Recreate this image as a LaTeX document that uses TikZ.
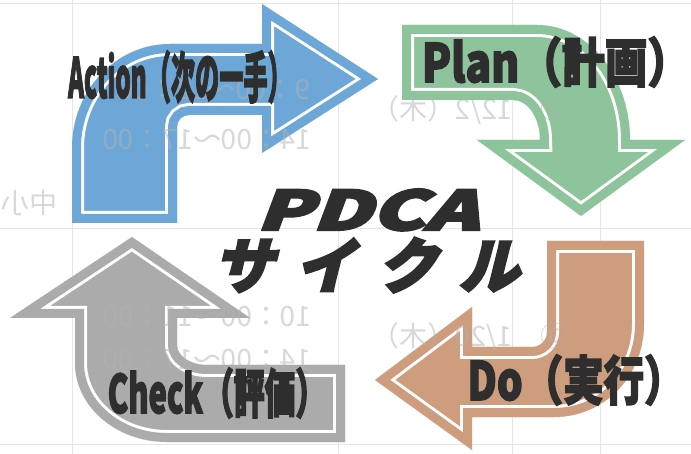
\documentclass[tikz,border=0pt]{standalone}
\usepackage{fontspec}
\usepackage{xcolor}
\usepackage{tikz}
\newfontfamily\lblfont[FakeBold=3]{Noto Sans CJK JP}
\newfontfamily\titlefont[FakeSlant=0.25,FakeBold=4]{Noto Sans CJK JP}
\newfontfamily\ghostfont{Noto Sans CJK JP}
\definecolor{actblue}{HTML}{6DA7D7}
\definecolor{plangreen}{HTML}{8DC49C}
\definecolor{dobrown}{HTML}{CD9D7E}
\definecolor{checkgray}{HTML}{ABABAB}
\definecolor{inkgray}{HTML}{2E2E2E}
\newcommand{\bentarrow}[2]{%
  \begin{scope}
    \clip #2;
    \fill[#1] #2;
    \draw[white,line width=24pt,line join=miter] #2;
    \draw[#1,line width=18pt,line join=miter] #2;
  \end{scope}}

\begin{document}
\begin{tikzpicture}[x=1pt,y=-1pt,
    lbl/.style={text=inkgray,font=\lblfont\bfseries\fontsize{44}{44}\selectfont,inner sep=0pt,transform shape},
    ttl/.style={text=inkgray,font=\titlefont\bfseries\fontsize{54}{54}\selectfont,inner sep=0pt,transform shape},
    ghost/.style={text=black!30,opacity=0.5,font=\ghostfont\fontsize{28}{28}\selectfont,inner sep=0pt,transform shape,xscale=-1},
    grid line/.style={black!10,line width=0.6pt}]
    \useasboundingbox[fill=white] (0,0) rectangle (691,454);
    % faint table seen through the paper
    \draw[grid line] (0,3)--(691,3);
    \draw[grid line] (0,228)--(691,228);
    \draw[grid line] (0,444)--(691,444);
    \draw[grid line] (72,0)--(72,454);
    \draw[grid line] (338,0)--(338,454);
    \draw[grid line] (512,0)--(512,454);
    \draw[grid line] (600,0)--(600,454);
    % the four arrows
    \bentarrow{actblue}{(72,223) -- (72,148) .. controls (72,90.6) and (115.9,44) .. (170,44) -- (262,44) -- (262,4) -- (378,79) -- (262,153) -- (262,115) -- (189,115) .. controls (182.4,115) and (177,120.4) .. (177,127) -- (177,223) -- cycle}
    \bentarrow{plangreen}{(402,25) -- (537,25) .. controls (588.3,25) and (630,76.5) .. (630,140) -- (685,140) -- (581,216) -- (477,140) -- (540,140) .. controls (540,117.9) and (527.9,100) .. (513,100) -- (402,100) -- cycle}
    \bentarrow{dobrown}{(547,241) -- (644,241) -- (644,324) .. controls (644,376) and (604.6,417) .. (554,417) -- (472,417) -- (472,450) -- (375,380) -- (472,307) -- (472,347) -- (532,347) .. controls (540.3,347) and (547,340.3) .. (547,332) -- cycle}
    \bentarrow{checkgray}{(132,237) -- (250,318) -- (177,318) -- (177,345) .. controls (177,356) and (190.4,365) .. (207,365) -- (345,365) -- (345,442) -- (167,442) .. controls (116.2,442) and (75,406.6) .. (75,363) -- (75,318) -- (10,318) -- cycle}
    % back page text
    \node[ghost] (g1) at (214,90) {9：00～12：00};
    \node[ghost] (g2) at (207,140) {14：00～17：00};
    \node[ghost] (g3) at (470,110) {②　12/2（木）};
    \node[ghost] (g4) at (29,203) {中小};
    \node[ghost] (g5) at (207,317) {10：00～11：00};
    \node[ghost] (g6) at (207,360) {14：00～17：00};
    \node[ghost] (g7) at (470,337) {③　1/20（木）};
    % labels
    \node[lbl,xscale=0.55,yscale=1.25] (act) at (180,77) {Action（次の一手）};
    \node[lbl,xscale=0.97,yscale=1.2] (plan) at (556,62) {Plan（計画）};
    \node[lbl,xscale=0.92,yscale=1.2] (do) at (576,380) {Do（実行）};
    \node[lbl,xscale=0.7,yscale=1.2] (chk) at (217,393) {Check（評価）};
    \node[ttl,xscale=1.5,text height=40pt,text depth=0pt] (pdca) at (367,210) {PDCA};
    \node[ttl,font=\titlefont\bfseries\fontsize{60}{60}\selectfont,text height=46pt,text depth=2pt] (cycle) at (366,266) {サ\kern22ptイ\kern22ptク\kern22ptル};
\end{tikzpicture}
\end{document}
